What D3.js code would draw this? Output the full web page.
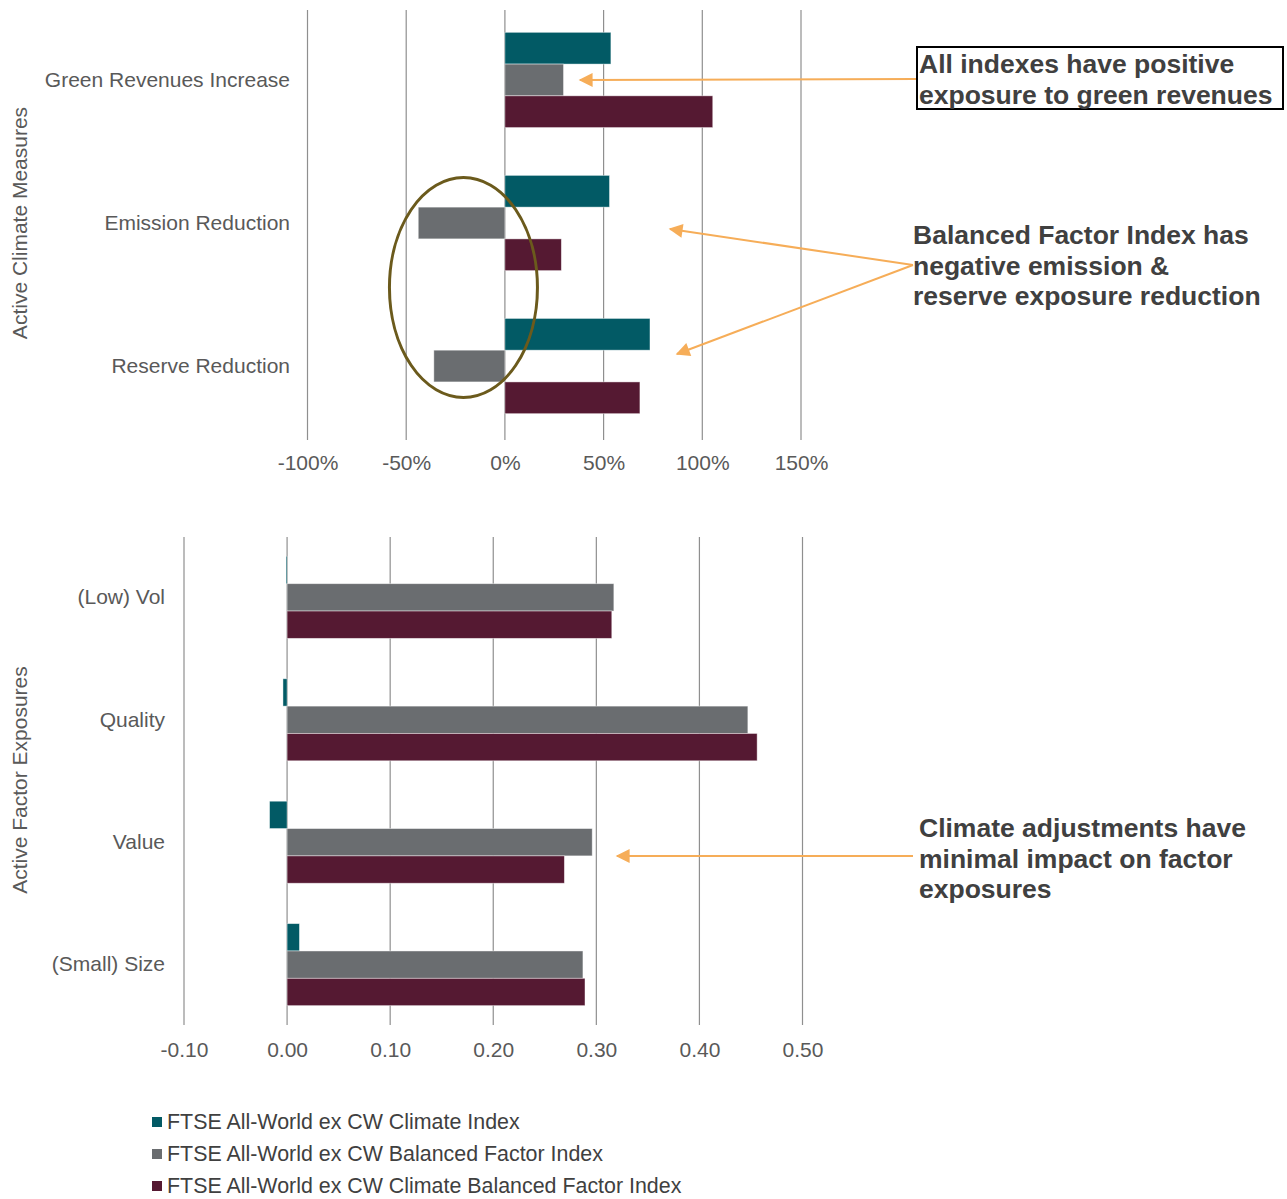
<!DOCTYPE html>
<html>
<head>
<meta charset="utf-8">
<script src="https://cdn.jsdelivr.net/npm/d3@7"></script>
<style>
  html, body { margin: 0; padding: 0; background: #fff; }
  svg { display: block; font-family: "Liberation Sans", Arial, sans-serif; }
</style>
</head>
<body>
<svg id="chart" width="1287" height="1199"></svg>
<script>
// ---------------- DATA ----------------
const seriesNames = [
  "FTSE All-World ex CW Climate Index",
  "FTSE All-World ex CW Balanced Factor Index",
  "FTSE All-World ex CW Climate Balanced Factor Index"
];
const seriesColors = ["#025a65", "#6a6d70", "#551932"];

const climateCategories = ["Green Revenues Increase", "Emission Reduction", "Reserve Reduction"];
const climateIndexClimate = [0.537, 0.530, 0.735];
const climateIndexBalanced = [0.297, -0.439, -0.360];
const climateIndexClimateBalanced = [1.053, 0.286, 0.684];
const climateTicks = [-1, -0.5, 0, 0.5, 1, 1.5];

const factorCategories = ["(Low) Vol", "Quality", "Value", "(Small) Size"];
const factorIndexClimate = [-0.001, -0.004, -0.017, 0.012];
const factorIndexBalanced = [0.317, 0.447, 0.296, 0.287];
const factorIndexClimateBalanced = [0.315, 0.456, 0.269, 0.289];
const factorTicks = [-0.1, 0, 0.1, 0.2, 0.3, 0.4, 0.5];

// ---------------- DRAW ----------------
const svg = d3.select("#chart");
const textColor = "#595959";
const gridColor = "#8f8f8f";
const orange = "#f6ad58";
const FS = 21;

const hyphen = f => d => f(d).replace("\u2212", "-");

function drawPanel(opts) {
  const { categories, series, xDomain, xRange, yRange, gridRange, ticks, tickFormat,
          labelX, tickY, padInner, padOuter, title, titleY } = opts;
  const g = svg.append("g");
  const x = d3.scaleLinear().domain(xDomain).range(xRange);
  const y = d3.scaleBand().domain(categories).range(yRange)
              .paddingInner(padInner).paddingOuter(padOuter);
  const ySub = d3.scaleBand().domain(d3.range(series.length)).range([0, y.bandwidth()]);

  // gridlines
  g.append("g").selectAll("line").data(ticks).join("line")
    .attr("x1", d => x(d)).attr("x2", d => x(d))
    .attr("y1", gridRange[0]).attr("y2", gridRange[1])
    .attr("stroke", gridColor).attr("stroke-width", 1.2);

  // bars
  const rows = [];
  categories.forEach((c, i) => series.forEach((s, k) => rows.push({ c, k, v: s[i] })));
  g.append("g").selectAll("rect").data(rows).join("rect")
    .attr("x", d => Math.min(x(0), x(d.v)))
    .attr("width", d => Math.max(1, Math.abs(x(d.v) - x(0))))
    .attr("y", d => y(d.c) + ySub(d.k))
    .attr("height", ySub.bandwidth())
    .attr("fill", d => seriesColors[d.k])
    .attr("stroke", "rgba(255,255,255,0.55)")
    .attr("stroke-width", 0.8);

  // x axis (tick labels only)
  const xAxis = d3.axisBottom(x).tickValues(ticks).tickFormat(hyphen(tickFormat)).tickSize(0).tickPadding(0);
  const xa = g.append("g").attr("transform", `translate(0,${tickY})`).call(xAxis);
  xa.select(".domain").remove();
  xa.selectAll("text").attr("fill", textColor).attr("font-size", FS)
    .attr("font-family", "Liberation Sans, Arial, sans-serif").attr("dy", "0.35em");

  // y axis (category labels)
  const yAxis = d3.axisLeft(y).tickSize(0).tickPadding(0);
  const ya = g.append("g").attr("transform", `translate(${labelX},0)`).call(yAxis);
  ya.select(".domain").remove();
  ya.selectAll("text").attr("fill", textColor).attr("font-size", FS)
    .attr("font-family", "Liberation Sans, Arial, sans-serif");

  // axis title
  g.append("text")
    .attr("transform", `translate(27,${titleY}) rotate(-90)`)
    .attr("text-anchor", "middle")
    .attr("fill", textColor).attr("font-size", FS)
    .text(title);
  return { x, y };
}

const topPanel = drawPanel({
  categories: climateCategories,
  series: [climateIndexClimate, climateIndexBalanced, climateIndexClimateBalanced],
  xDomain: [-1, 1.5], xRange: [307.5, 801],
  yRange: [8, 438], gridRange: [10, 440], padInner: 0.334, padOuter: 0.17,
  ticks: climateTicks, tickFormat: d3.format(".0%"),
  labelX: 290, tickY: 463,
  title: "Active Climate Measures", titleY: 223
});

const bottomPanel = drawPanel({
  categories: factorCategories,
  series: [factorIndexClimate, factorIndexBalanced, factorIndexClimateBalanced],
  xDomain: [-0.1, 0.5], xRange: [184, 802.5],
  yRange: [537, 1025], gridRange: [537, 1025], padInner: 0.33, padOuter: 0.158,
  ticks: factorTicks, tickFormat: d3.format(".2f"),
  labelX: 165, tickY: 1050,
  title: "Active Factor Exposures", titleY: 780
});

// ---------------- ANNOTATIONS ----------------
const defs = svg.append("defs");
defs.append("marker").attr("id", "arrow")
  .attr("viewBox", "0 0 10 10").attr("refX", 1).attr("refY", 5)
  .attr("markerWidth", 16).attr("markerHeight", 14)
  .attr("markerUnits", "userSpaceOnUse")
  .attr("orient", "auto")
  .append("path").attr("d", "M0,5 L10,0 L10,10 Z").attr("fill", orange);

const ann = svg.append("g");
function arrow(x1, y1, x2, y2) {
  ann.append("line").attr("x1", x1).attr("y1", y1).attr("x2", x2).attr("y2", y2)
    .attr("stroke", orange).attr("stroke-width", 2)
    .attr("marker-start", "url(#arrow)");
}
// lines start at the head (tip) and go to the text
arrow(580, 80, 916, 79);
arrow(670, 229, 913, 265);
arrow(677, 354, 913, 265);
arrow(617, 856, 913, 856);

// ellipse highlighting negative balanced-factor bars
ann.append("ellipse").attr("cx", topPanel.x(-0.21)).attr("cy", 287.5)
  .attr("rx", 74).attr("ry", 110).attr("fill", "none")
  .attr("stroke", "#6b5a1c").attr("stroke-width", 3);

function annText(x0, y0, lines) {
  const t = ann.append("text").attr("x", x0).attr("y", y0)
    .attr("font-size", 26.5).attr("font-weight", "bold").attr("fill", "#404040");
  lines.forEach((l, i) => t.append("tspan").attr("x", x0).attr("dy", i === 0 ? 0 : 30.5).text(l));
}
ann.append("rect").attr("x", 917).attr("y", 47).attr("width", 366).attr("height", 62)
  .attr("fill", "#fff").attr("stroke", "#000").attr("stroke-width", 2);
annText(919, 73, ["All indexes have positive", "exposure to green revenues"]);
annText(913, 244, ["Balanced Factor Index has", "negative emission &", "reserve exposure reduction"]);
annText(919, 837, ["Climate adjustments have", "minimal impact on factor", "exposures"]);

// ---------------- LEGEND ----------------
const leg = svg.append("g");
seriesNames.forEach((n, i) => {
  const cy = 1122 + i * 32;
  leg.append("rect").attr("x", 152).attr("y", cy - 5).attr("width", 10).attr("height", 10)
    .attr("fill", seriesColors[i]);
  leg.append("text").attr("x", 167).attr("y", cy).attr("dy", "0.35em")
    .attr("font-size", 21.4).attr("fill", "#404040").text(n);
});
</script>
</body>
</html>
